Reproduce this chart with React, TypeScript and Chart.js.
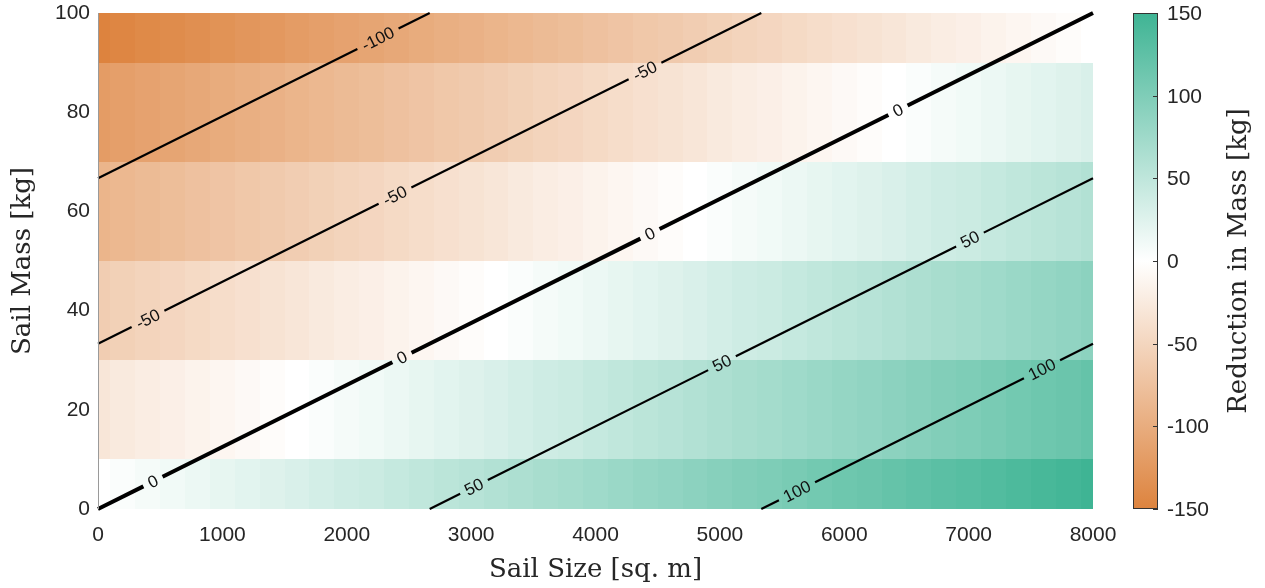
import React, { useEffect, useRef } from "react";
import { Chart, registerables } from "chart.js";

Chart.register(...registerables);

// ---- data ----
const xCenters = [0, 200, 400, 600, 800, 1000, 1200, 1400, 1600, 1800, 2000, 2200, 2400, 2600, 2800, 3000, 3200, 3400, 3600, 3800, 4000, 4200, 4400, 4600, 4800, 5000, 5200, 5400, 5600, 5800, 6000, 6200, 6400, 6600, 6800, 7000, 7200, 7400, 7600, 7800, 8000];
const yCenters = [0, 20, 40, 60, 80, 100];

const row0 = [0, 4, 8, 11, 15, 19, 23, 26, 30, 34, 38, 41, 45, 49, 53, 56, 60, 64, 68, 71, 75, 79, 83, 86, 90, 94, 98, 101, 105, 109, 113, 116, 120, 124, 128, 131, 135, 139, 143, 146, 150];
const row20 = [-30, -26, -22, -19, -15, -11, -7, -4, 0, 4, 8, 11, 15, 19, 23, 26, 30, 34, 38, 41, 45, 49, 53, 56, 60, 64, 68, 71, 75, 79, 83, 86, 90, 94, 98, 101, 105, 109, 113, 116, 120];
const row40 = [-60, -56, -52, -49, -45, -41, -37, -34, -30, -26, -22, -19, -15, -11, -7, -4, 0, 4, 8, 11, 15, 19, 23, 26, 30, 34, 38, 41, 45, 49, 53, 56, 60, 64, 68, 71, 75, 79, 83, 86, 90];
const row60 = [-90, -86, -82, -79, -75, -71, -67, -64, -60, -56, -52, -49, -45, -41, -37, -34, -30, -26, -22, -19, -15, -11, -7, -4, 0, 4, 8, 11, 15, 19, 23, 26, 30, 34, 38, 41, 45, 49, 53, 56, 60];
const row80 = [-120, -116, -112, -109, -105, -101, -97, -94, -90, -86, -82, -79, -75, -71, -67, -64, -60, -56, -52, -49, -45, -41, -37, -34, -30, -26, -22, -19, -15, -11, -7, -4, 0, 4, 8, 11, 15, 19, 23, 26, 30];
const row100 = [-150, -146, -142, -139, -135, -131, -127, -124, -120, -116, -112, -109, -105, -101, -97, -94, -90, -86, -82, -79, -75, -71, -67, -64, -60, -56, -52, -49, -45, -41, -37, -34, -30, -26, -22, -19, -15, -11, -7, -4, 0];
const cellRows = [row0, row20, row40, row60, row80, row100];

const contourLevels = [-100, -50, 0, 50, 100];
const contourPaths = [
  [[0, 66.7], [2667, 100]],
  [[0, 33.3], [5333, 100]],
  [[0, 0], [8000, 100]],
  [[2667, 0], [8000, 66.7]],
  [[5333, 0], [8000, 33.3]],
];
const labelLevels = [-100, -50, -50, -50, 0, 0, 0, 0, 50, 50, 50, 100, 100];
const labelX = [2251, 4398, 2388, 402, 6432, 4438, 2444, 442, 7011, 5017, 3023, 7590, 5620];

const xTickStep = 1000;
const yTickStep = 20;
const colorbarTicks = [-150, -100, -50, 0, 50, 100, 150];
const cMin = -150;
const cMax = 150;

const ORANGE = [221, 131, 62];
const WHITE = [255, 255, 255];
const GREEN = [63, 180, 148];

function colorFor(v: number) {
  const t = Math.max(-1, Math.min(1, v / cMax));
  const a = t < 0 ? ORANGE : GREEN;
  const f = Math.abs(t);
  const c = WHITE.map((w, k) => Math.round(w + (a[k] - w) * f));
  return `rgb(${c[0]},${c[1]},${c[2]})`;
}

const TICK_FONT = "'Liberation Sans', Arial, sans-serif";
const SERIF = "'DejaVu Serif', 'Liberation Serif', serif";
const TICK_SIZE = 21;
const TITLE_SIZE = 26;

const heatmapPlugin = {
  id: "heatmap",
  beforeDatasetsDraw(chart: any) {
    const { ctx, chartArea, scales } = chart;
    const xs = scales.x;
    const ys = scales.y;
    ctx.save();
    ctx.beginPath();
    ctx.rect(chartArea.left, chartArea.top, chartArea.right - chartArea.left, chartArea.bottom - chartArea.top);
    ctx.clip();
    const hx = (xCenters[1] - xCenters[0]) / 2;
    const hy = (yCenters[1] - yCenters[0]) / 2;
    yCenters.forEach((yc, j) => {
      xCenters.forEach((xc, i) => {
        const x0 = Math.round(xs.getPixelForValue(xc - hx));
        const x1 = Math.round(xs.getPixelForValue(xc + hx));
        const y0 = Math.round(ys.getPixelForValue(yc + hy));
        const y1 = Math.round(ys.getPixelForValue(yc - hy));
        ctx.fillStyle = colorFor(cellRows[j][i]);
        ctx.fillRect(x0, y0, x1 - x0, y1 - y0);
      });
    });
    ctx.restore();
  },
  afterDatasetsDraw(chart: any) {
    const { ctx, chartArea, scales } = chart;
    const xs = scales.x;
    const ys = scales.y;
    ctx.save();
    ctx.beginPath();
    ctx.rect(chartArea.left - 3, chartArea.top - 3, chartArea.right - chartArea.left + 6, chartArea.bottom - chartArea.top + 6);
    ctx.clip();
    ctx.font = `17px ${TICK_FONT}`;
    contourLevels.forEach((lev, k) => {
      const path = contourPaths[k];
      const p0 = { x: xs.getPixelForValue(path[0][0]), y: ys.getPixelForValue(path[0][1]) };
      const p1 = { x: xs.getPixelForValue(path[1][0]), y: ys.getPixelForValue(path[1][1]) };
      const dx = p1.x - p0.x;
      const dy = p1.y - p0.y;
      const len = Math.hypot(dx, dy);
      const ux = dx / len;
      const uy = dy / len;
      const gaps: number[][] = [];
      const labels: any[] = [];
      labelLevels.forEach((l, m) => {
        if (l !== lev) return;
        const lx = labelX[m];
        const t = (lx - path[0][0]) / (path[1][0] - path[0][0]);
        const s = t * len;
        const text = String(l);
        const w = ctx.measureText(text).width;
        const h = w / 2 + 6;
        gaps.push([s - h, s + h]);
        labels.push({ s, text });
      });
      gaps.sort((a, b) => a[0] - b[0]);
      ctx.strokeStyle = "#000";
      ctx.lineWidth = lev === 0 ? 4 : 2.2;
      ctx.lineCap = "butt";
      let cur = 0;
      const segs: number[][] = [];
      gaps.forEach((g) => {
        if (g[0] > cur) segs.push([cur, g[0]]);
        cur = g[1];
      });
      if (cur < len) segs.push([cur, len]);
      segs.forEach((sg) => {
        ctx.beginPath();
        ctx.moveTo(p0.x + ux * sg[0], p0.y + uy * sg[0]);
        ctx.lineTo(p0.x + ux * sg[1], p0.y + uy * sg[1]);
        ctx.stroke();
      });
      const ang = Math.atan2(dy, dx);
      labels.forEach((lb) => {
        ctx.save();
        ctx.translate(p0.x + ux * lb.s, p0.y + uy * lb.s);
        ctx.rotate(ang);
        ctx.fillStyle = "#111";
        ctx.textAlign = "center";
        ctx.textBaseline = "middle";
        ctx.fillText(lb.text, 0, 1);
        ctx.restore();
      });
    });
    ctx.restore();

    // axis line (left)
    ctx.save();
    ctx.strokeStyle = "#9a9a9a";
    ctx.lineWidth = 1;
    ctx.beginPath();
    ctx.moveTo(chartArea.left + 0.5, chartArea.top);
    ctx.lineTo(chartArea.left + 0.5, chartArea.bottom);
    ctx.stroke();
    ctx.restore();
  },
  afterDraw(chart: any) {
    const { ctx, chartArea } = chart;
    const left = chartArea.right + 40;
    const width = 25;
    const top = chartArea.top;
    const bottom = chartArea.bottom;
    const valToY = (v: number) => bottom - ((v - cMin) / (cMax - cMin)) * (bottom - top);
    ctx.save();
    const grad = ctx.createLinearGradient(0, bottom, 0, top);
    grad.addColorStop(0, colorFor(cMin));
    grad.addColorStop(0.5, colorFor(0));
    grad.addColorStop(1, colorFor(cMax));
    ctx.fillStyle = grad;
    ctx.fillRect(left, top, width, bottom - top);
    ctx.strokeStyle = "#333";
    ctx.lineWidth = 1;
    ctx.strokeRect(left + 0.5, top + 0.5, width - 1, bottom - top - 1);
    ctx.font = `${TICK_SIZE}px ${TICK_FONT}`;
    ctx.fillStyle = "#262626";
    ctx.textAlign = "left";
    ctx.textBaseline = "middle";
    colorbarTicks.forEach((v) => {
      const y = Math.round(valToY(v)) + 0.5;
      ctx.beginPath();
      ctx.moveTo(left + width - 5, y);
      ctx.lineTo(left + width, y);
      ctx.stroke();
      ctx.fillText(String(v), left + width + 9, y + 1);
    });
    ctx.translate(1239, (top + bottom) / 2);
    ctx.rotate(-Math.PI / 2);
    ctx.textAlign = "center";
    ctx.textBaseline = "middle";
    ctx.font = `${TITLE_SIZE}px ${SERIF}`;
    ctx.fillStyle = "#262626";
    ctx.fillText("Reduction in Mass [kg]", 0, 0);
    ctx.restore();
  },
};

export default function App() {
  const ref = useRef<HTMLCanvasElement | null>(null);
  useEffect(() => {
    if (!ref.current) return;
    const chart = new Chart(ref.current, {
      type: "scatter",
      data: { datasets: [] },
      plugins: [heatmapPlugin],
      options: {
        animation: false,
        responsive: false,
        devicePixelRatio: 1,
        layout: { padding: { left: 0, top: 13, right: 172, bottom: 0 } },
        plugins: { legend: { display: false }, tooltip: { enabled: false } },
        scales: {
          x: {
            type: "linear",
            min: 0,
            max: 8000,
            grid: { display: false, drawTicks: false },
            border: { display: false },
            ticks: {
              stepSize: xTickStep,
              padding: 14,
              color: "#262626",
              font: { family: TICK_FONT, size: TICK_SIZE },
              callback: (v: any) => String(v),
            },
            title: {
              display: true,
              text: "Sail Size [sq. m]",
              color: "#262626",
              font: { family: SERIF, size: TITLE_SIZE },
              padding: { top: 0, bottom: 2 },
            },
            afterFit: (s: any) => {
              s.height = 79;
              s.paddingLeft = 0;
              s.paddingRight = 0;
            },
          },
          y: {
            type: "linear",
            min: 0,
            max: 100,
            grid: { display: false, drawTicks: false },
            border: { display: false },
            ticks: {
              stepSize: yTickStep,
              padding: 8,
              color: "#262626",
              font: { family: TICK_FONT, size: TICK_SIZE },
              callback: (v: any) => String(v),
            },
            title: {
              display: true,
              text: "Sail Mass [kg]",
              color: "#262626",
              font: { family: SERIF, size: TITLE_SIZE },
              padding: { top: 8, bottom: 0 },
            },
            afterFit: (s: any) => {
              s.width = 98;
              s.paddingTop = 0;
              s.paddingBottom = 0;
            },
          },
        },
      },
    } as any);
    return () => chart.destroy();
  }, []);
  return (
    <div style={{ position: "absolute", left: 0, top: 0, width: 1265, height: 588, background: "#fff" }}>
      <canvas ref={ref} width={1265} height={588} style={{ display: "block" }} />
    </div>
  );
}
